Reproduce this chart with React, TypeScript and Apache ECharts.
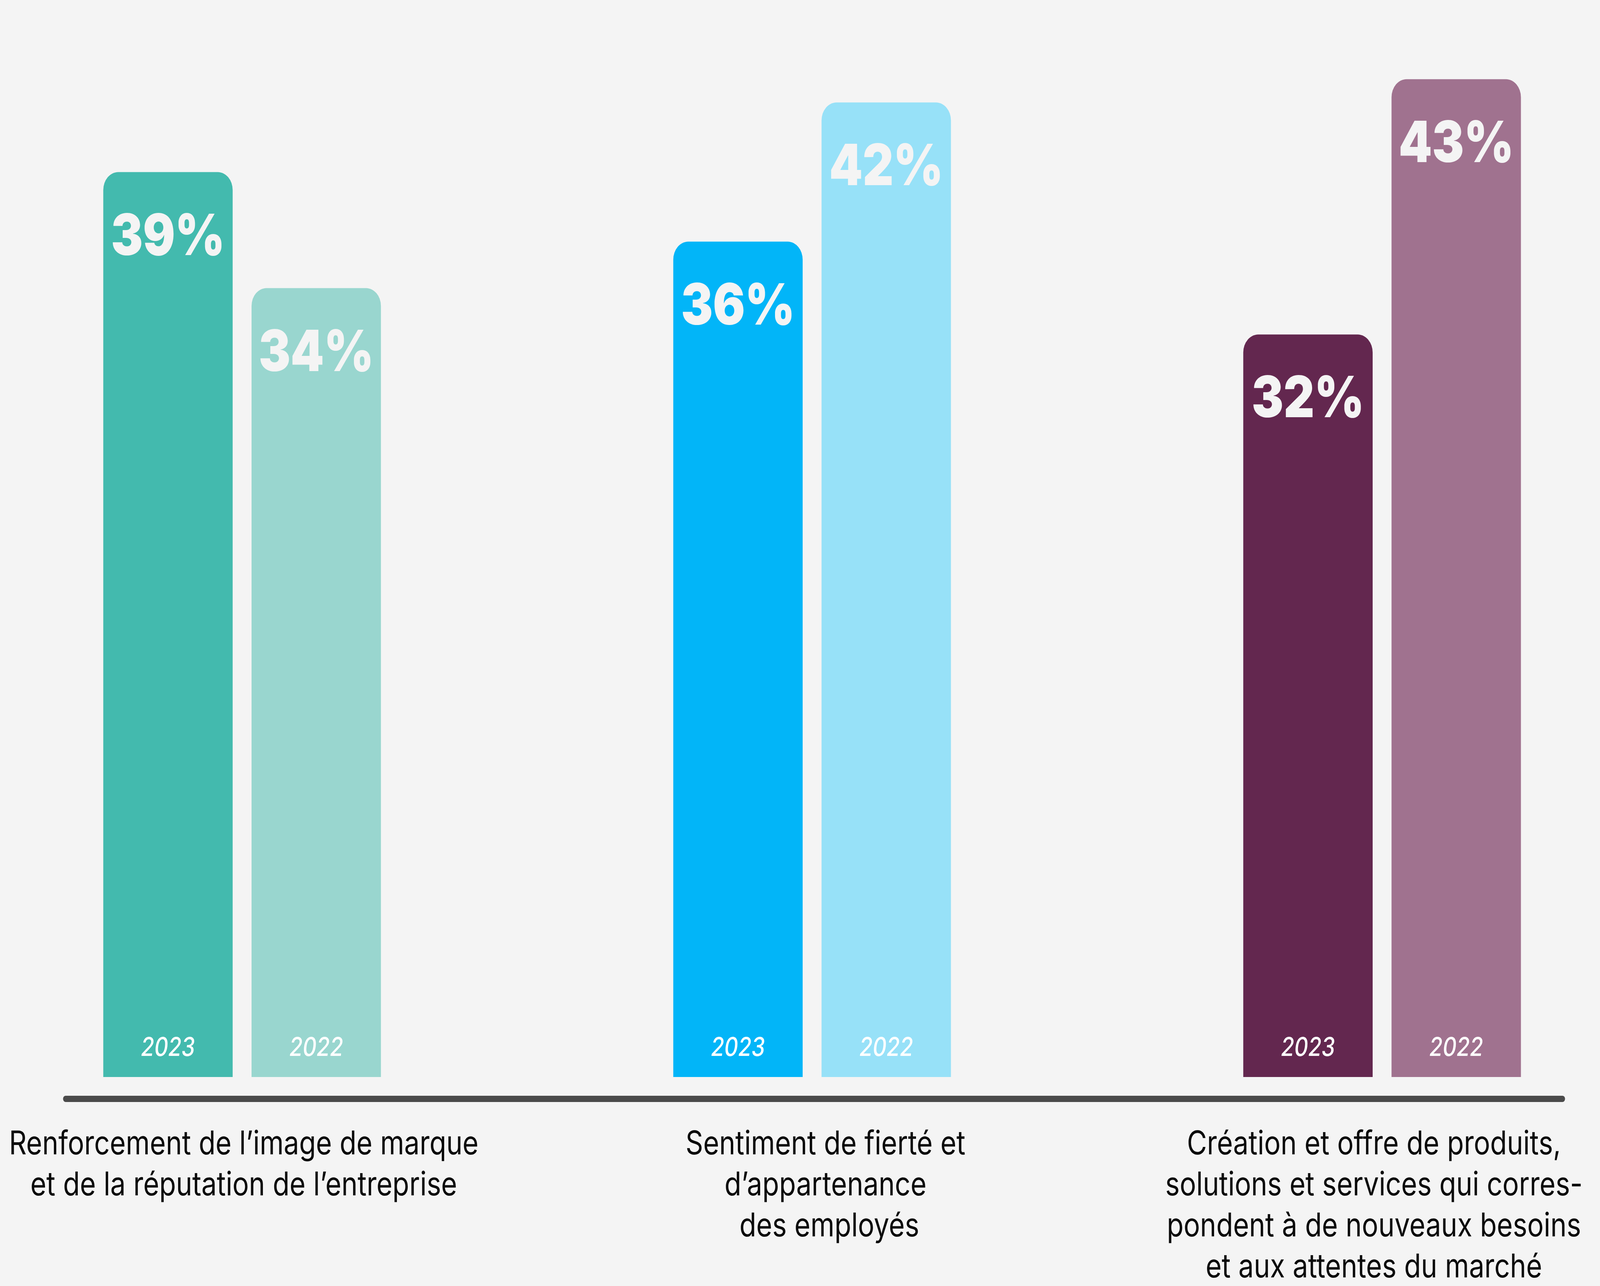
import React, { useEffect, useRef, useState } from "react";
import * as echarts from "echarts";

const categories = [
  "Renforcement de l’image de marque\net de la réputation de l’entreprise",
  "Sentiment de fierté et\nd’appartenance\n des employés",
  "Création et offre de produits,\nsolutions et services qui corres-\npondent à de nouveaux besoins\net aux attentes du marché",
];
const years = ["2023", "2022"];
const values2023 = [39, 36, 32];
const values2022 = [34, 42, 43];
const colors2023 = ["#43BAAE", "#02B5F8", "#63274F"];
const colors2022 = ["#99D6CF", "#97E1F8", "#A0728F"];
const labelPadding = [
  [0, 0, 0, 10],
  [0, 0, 0, 82],
  [0, 50, 0, 0],
];

const W = 4897;
const H = 3292;

function getScale() {
  return { sx: window.innerWidth / W, sy: window.innerHeight / H };
}

export default function App() {
  const ref = useRef<HTMLDivElement>(null);
  const [scale, setScale] = useState(getScale);
  useEffect(() => {
    document.body.style.margin = "0";
    document.body.style.overflow = "hidden";
    document.body.style.background = "#F4F4F4";
    const onResize = () => setScale(getScale());
    onResize();
    window.addEventListener("resize", onResize);
    return () => window.removeEventListener("resize", onResize);
  }, []);
  useEffect(() => {
    const chart = echarts.init(ref.current!, null, { renderer: "svg" });
    const barBase = {
      type: "bar" as const,
      barWidth: 396,
      barGap: "14.6%",
      clip: false,
    };
    const pctLabel = {
      show: true,
      position: "insideTop",
      distance: 86,
      formatter: "{c}%",
      fontFamily: "Inter",
      fontWeight: 900,
      fontSize: 146,
      color: "#F4F4F4",
    };
    const yearLabel = (y: string) => ({
      show: true,
      position: "insideBottom",
      distance: 45,
      formatter: y,
      fontFamily: "Inter",
      fontStyle: "italic",
      fontWeight: 500,
      fontSize: 66,
      color: "#FFFFFF",
    });
    const xBase = {
      type: "category" as const,
      boundaryGap: false,
      axisTick: { show: false },
      splitLine: { show: false },
      axisLine: { show: false },
    };
    chart.setOption({
      animation: false,
      backgroundColor: "#F4F4F4",
      grid: { left: 741, right: 666, top: 84, bottom: 486 },
      xAxis: [
        {
          ...xBase,
          position: "bottom",
          data: categories.map((c, i) => ({
            value: c,
            textStyle: { padding: labelPadding[i] },
          })),
          axisLabel: {
            interval: 0,
            margin: 115,
            fontFamily: "Inter",
            fontSize: 84,
            lineHeight: 105,
            color: "#0A0A0A",
            align: "center",
          },
        },
        { ...xBase, data: categories, position: "bottom", axisLabel: { show: false } },
      ],
      yAxis: { type: "value", min: 0, max: 45, show: false },
      series: [
        {
          ...barBase,
          name: years[0],
          xAxisIndex: 0,
          data: values2023.map((v, i) => ({ value: v, itemStyle: { color: colors2023[i] } })),
          itemStyle: { borderRadius: [46, 46, 0, 0] },
          label: pctLabel,
        },
        {
          ...barBase,
          name: years[1],
          xAxisIndex: 0,
          data: values2022.map((v, i) => ({ value: v, itemStyle: { color: colors2022[i] } })),
          itemStyle: { borderRadius: [46, 46, 0, 0] },
          label: pctLabel,
        },
        {
          ...barBase,
          name: years[0] + " label",
          xAxisIndex: 1,
          silent: true,
          data: values2023,
          itemStyle: { color: "transparent" },
          label: yearLabel(years[0]),
        },
        {
          ...barBase,
          name: years[1] + " label",
          xAxisIndex: 1,
          silent: true,
          data: values2022,
          itemStyle: { color: "transparent" },
          label: yearLabel(years[1]),
        },
      ],
      graphic: [
        {
          type: "line",
          z: 10,
          shape: { x1: 201, y1: 2813, x2: 4782, y2: 2813 },
          style: { stroke: "#4A4A4A", lineWidth: 16, lineCap: "round" },
        },
      ],
    });
    return () => chart.dispose();
  }, []);
  return (
    <div
      style={{
        width: W * scale.sx,
        height: H * scale.sy,
        overflow: "hidden",
        position: "relative",
        background: "#F4F4F4",
      }}
    >
      <div
        ref={ref}
        style={{
          width: W,
          height: H,
          background: "#F4F4F4",
          transform: `scale(${scale.sx}, ${scale.sy})`,
          transformOrigin: "0 0",
          position: "absolute",
          left: 0,
          top: 0,
        }}
      />
    </div>
  );
}
